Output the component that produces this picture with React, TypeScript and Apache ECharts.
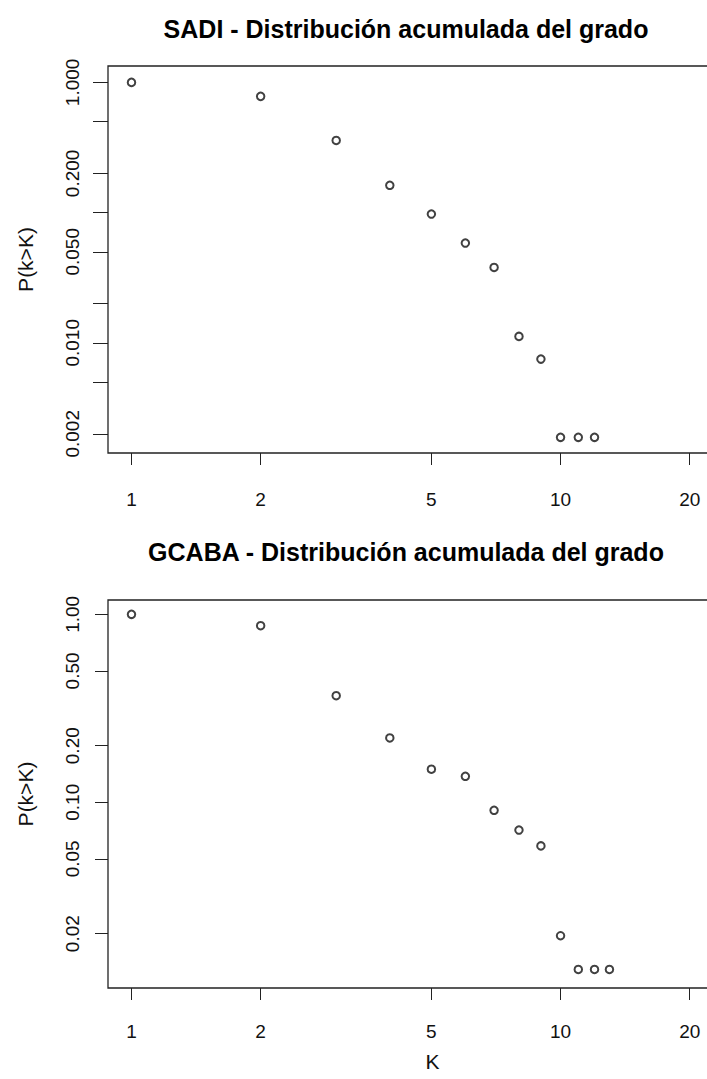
import React, { useEffect, useRef } from "react";
import * as echarts from "echarts";

const sadiDegree = [1, 2, 3, 4, 5, 6, 7, 8, 9, 10, 11, 12];
const sadiCumProb = [1.0, 0.781, 0.358, 0.162, 0.0975, 0.0584, 0.0379, 0.0112, 0.0075, 0.00188, 0.00188, 0.00188];
const gcabaDegree = [1, 2, 3, 4, 5, 6, 7, 8, 9, 10, 11, 12, 13];
const gcabaCumProb = [1.0, 0.87, 0.369, 0.22, 0.15, 0.1375, 0.0907, 0.0712, 0.0586, 0.0195, 0.0129, 0.0129, 0.0129];

const xTicks = [1, 2, 5, 10, 20];
const sadiYTicks = [1, 0.5, 0.2, 0.1, 0.05, 0.02, 0.01, 0.005, 0.002];
const sadiYLabels = [1, 0.2, 0.05, 0.01, 0.002];
const gcabaYTicks = [1, 0.5, 0.2, 0.1, 0.05, 0.02];

const titles = ["SADI - Distribución acumulada del grado", "GCABA - Distribución acumulada del grado"];
const yName = "P(k>K)";
const xName = "K";

const FONT = "'Liberation Sans', Arial, sans-serif";
const lineStyle = { color: "#222", width: 1 };

export default function App() {
  const ref = useRef<HTMLDivElement>(null);
  useEffect(() => {
    if (!ref.current) return;
    const chart = echarts.init(ref.current, null, { renderer: "svg" });
    const labelStyle = { color: "#111", fontFamily: FONT, fontSize: 19 };
    const option: any = {
      animation: false,
      backgroundColor: "#fff",
      grid: [
        { left: 108, top: 66, width: 649, height: 387, show: true, borderColor: "#222", borderWidth: 1.3, backgroundColor: "transparent" },
        { left: 108, top: 600, width: 649, height: 388, show: true, borderColor: "#222", borderWidth: 1.3, backgroundColor: "transparent" },
      ],
      xAxis: [0, 1].map((i) => ({
        type: "log",
        logBase: 10,
        gridIndex: i,
        min: 0.8816,
        max: 28.7,
        axisLine: { show: false },
        axisTick: { show: true, length: 12, customValues: xTicks, lineStyle },
        axisLabel: { ...labelStyle, customValues: xTicks, margin: i === 0 ? 37 : 34, formatter: (v: number) => String(v) },
        splitLine: { show: false },
        minorTick: { show: false },
        name: i === 1 ? xName : "",
        nameLocation: "middle",
        nameGap: 63,
        nameTextStyle: { color: "#111", fontFamily: FONT, fontSize: 21 },
      })),
      yAxis: [
        {
          type: "log",
          logBase: 10,
          gridIndex: 0,
          min: 0.001425,
          max: 1.336,
          axisLine: { show: false },
          axisTick: { show: true, length: 15, customValues: sadiYTicks, lineStyle },
          axisLabel: { ...labelStyle, customValues: sadiYLabels, rotate: 90, margin: 26, formatter: (v: number) => v.toFixed(3) },
          splitLine: { show: false },
          minorTick: { show: false },
          name: yName,
          nameLocation: "middle",
          nameGap: 72,
          nameTextStyle: { color: "#111", fontFamily: FONT, fontSize: 21 },
        },
        {
          type: "log",
          logBase: 10,
          gridIndex: 1,
          min: 0.01028,
          max: 1.192,
          axisLine: { show: false },
          axisTick: { show: true, length: 13, customValues: gcabaYTicks, lineStyle },
          axisLabel: { ...labelStyle, customValues: gcabaYTicks, rotate: 90, margin: 26, formatter: (v: number) => v.toFixed(2) },
          splitLine: { show: false },
          minorTick: { show: false },
          name: yName,
          nameLocation: "middle",
          nameGap: 72,
          nameTextStyle: { color: "#111", fontFamily: FONT, fontSize: 21 },
        },
      ],
      series: [
        {
          type: "scatter",
          xAxisIndex: 0,
          yAxisIndex: 0,
          symbol: "emptyCircle",
          symbolSize: 7.5,
          itemStyle: { color: "#111", borderWidth: 1.2 },
          data: sadiDegree.map((k, i) => [k, sadiCumProb[i]]),
        },
        {
          type: "scatter",
          xAxisIndex: 1,
          yAxisIndex: 1,
          symbol: "emptyCircle",
          symbolSize: 7.5,
          itemStyle: { color: "#111", borderWidth: 1.2 },
          data: gcabaDegree.map((k, i) => [k, gcabaCumProb[i]]),
        },
      ],
      graphic: titles.map((t, i) => ({
        type: "text",
        x: 406,
        y: i === 0 ? 29 : 552,
        style: { text: t, fontSize: 25, fontWeight: "bold", fontFamily: FONT, align: "center", verticalAlign: "middle", fill: "#000" },
      })),
    };
    chart.setOption(option);
    return () => chart.dispose();
  }, []);
  return (
    <div style={{ position: "absolute", left: 0, top: 0, width: 707, height: 1079, overflow: "hidden", background: "#fff" }}>
      <div ref={ref} style={{ width: 800, height: 1079 }} />
    </div>
  );
}
